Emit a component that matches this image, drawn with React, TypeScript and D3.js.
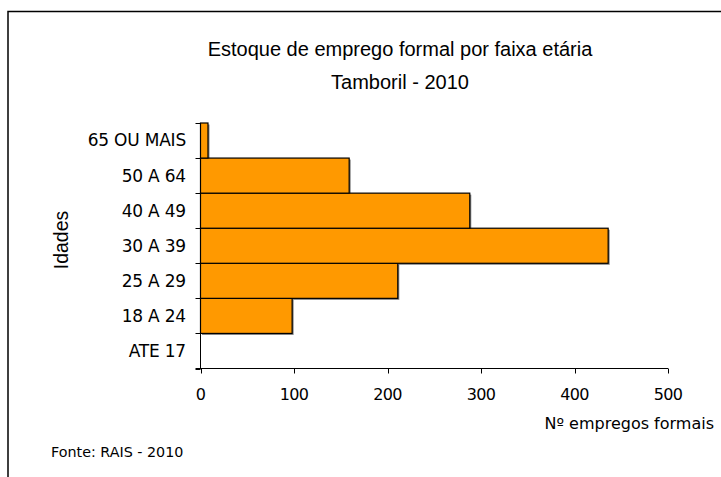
import React, { useEffect, useRef } from 'react';
import * as d3 from 'd3';

const categories = ['ATE 17', '18 A 24', '25 A 29', '30 A 39', '40 A 49', '50 A 64', '65 OU MAIS'];
const values = [0, 98, 211, 436, 288, 159, 8];
const xTicks = [0, 100, 200, 300, 400, 500];

const W = 721;
const H = 477;

export default function App() {
  const svgRef = useRef<SVGSVGElement>(null);

  useEffect(() => {
    const svg = d3.select(svgRef.current);
    svg.selectAll('*').remove();

    const left = 200.5, right = 668, top = 123, bottom = 368.5;
    const x = d3.scaleLinear().domain([0, 500]).range([left, right]);
    const y = d3.scaleBand().domain(categories.slice().reverse()).range([top, bottom]).padding(0);

    // outer frame (cropped chart area)
    svg.append('path').attr('d', `M8,${H} V11.5 H${W}`)
      .attr('fill', 'none').attr('stroke', '#000').attr('stroke-width', 1.5);

    // title
    const title = svg.append('text').attr('text-anchor', 'middle')
      .style('font-family', '"Liberation Sans", Arial, sans-serif').style('font-size', '20px').attr('fill', '#000');
    title.append('tspan').attr('x', 400).attr('y', 56).text('Estoque de emprego formal por faixa etária');
    title.append('tspan').attr('x', 400).attr('y', 89).text('Tamboril - 2010');

    const data = categories.map((c, i) => ({ cat: c, v: values[i] }));

    // bar shadows
    svg.append('g').selectAll('rect').data(data.filter(d => d.v > 0)).enter().append('rect')
      .attr('x', left + 1.5).attr('y', d => y(d.cat)! + 1.5)
      .attr('width', d => x(d.v) - left).attr('height', y.bandwidth())
      .attr('fill', '#808080');

    // bars
    svg.append('g').selectAll('rect').data(data.filter(d => d.v > 0)).enter().append('rect')
      .attr('x', left).attr('y', d => y(d.cat)!)
      .attr('width', d => x(d.v) - left).attr('height', y.bandwidth())
      .attr('fill', '#FF9900').attr('stroke', '#000').attr('stroke-width', 1.2);

    // y axis
    const yAxis = svg.append('g');
    yAxis.append('line').attr('x1', left).attr('x2', left).attr('y1', top).attr('y2', bottom).attr('stroke', '#000');
    const bounds = [...y.domain().map(c => y(c)!), bottom];
    yAxis.selectAll('line.tick').data(bounds).enter().append('line').attr('class', 'tick')
      .attr('x1', left - 5).attr('x2', left).attr('y1', d => Math.round(d) + 0.5).attr('y2', d => Math.round(d) + 0.5)
      .attr('stroke', '#000');
    yAxis.selectAll('text').data(categories).enter().append('text')
      .attr('x', 186).attr('y', d => y(d)! + y.bandwidth() / 2).attr('dy', '0.35em')
      .attr('text-anchor', 'end')
      .style('font-family', '"DejaVu Sans", sans-serif').style('font-size', '17px').style('letter-spacing', '-0.2px')
      .attr('fill', '#000').text(d => d);

    // x axis
    const xAxis = svg.append('g');
    xAxis.append('line').attr('x1', left - 5).attr('x2', right).attr('y1', bottom).attr('y2', bottom).attr('stroke', '#000');
    xAxis.selectAll('line.tick').data(xTicks).enter().append('line').attr('class', 'tick')
      .attr('x1', d => Math.round(x(d)) + 0.5).attr('x2', d => Math.round(x(d)) + 0.5)
      .attr('y1', bottom).attr('y2', bottom + 5).attr('stroke', '#000');
    xAxis.selectAll('text').data(xTicks).enter().append('text')
      .attr('x', d => x(d)).attr('y', 400).attr('text-anchor', 'middle')
      .style('font-family', '"DejaVu Sans", sans-serif').style('font-size', '16px').style('letter-spacing', '-0.6px')
      .attr('fill', '#000').text(d => d);

    // axis titles
    svg.append('text').attr('x', 714).attr('y', 429).attr('text-anchor', 'end')
      .style('font-family', '"DejaVu Sans", sans-serif').style('font-size', '16px')
      .attr('fill', '#000').text('Nº empregos formais');
    svg.append('text').attr('transform', 'translate(68,240) rotate(-90)').attr('text-anchor', 'middle')
      .style('font-family', '"Liberation Sans", Arial, sans-serif').style('font-size', '19.5px')
      .attr('fill', '#000').text('Idades');

    svg.append('text').attr('x', 51).attr('y', 457)
      .style('font-family', '"DejaVu Sans", sans-serif').style('font-size', '14.3px')
      .attr('fill', '#000').text('Fonte: RAIS - 2010');
  }, []);

  return (
    <svg ref={svgRef} width={W} height={H}
      style={{ position: 'absolute', left: 0, top: 0, background: '#fff', display: 'block' }} />
  );
}
